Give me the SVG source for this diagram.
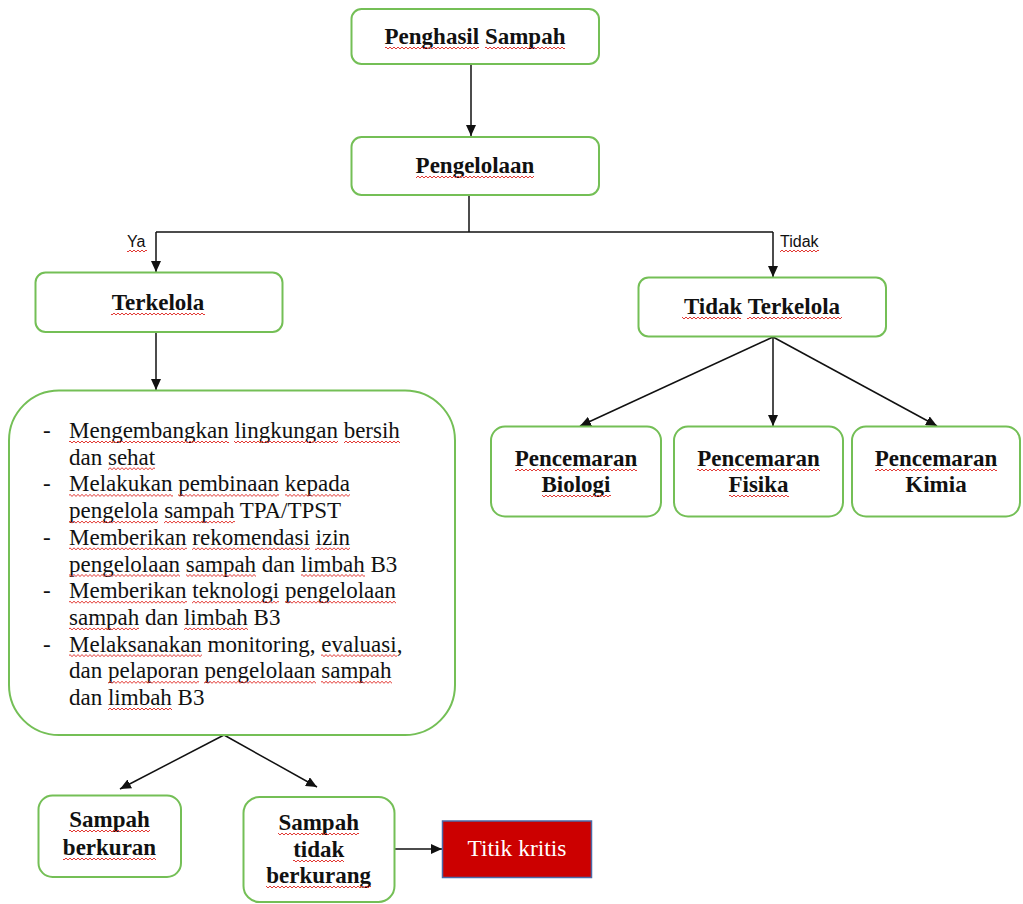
<svg xmlns="http://www.w3.org/2000/svg" width="1023" height="904" viewBox="0 0 1023 904">
<style>
.box{fill:#fff;stroke:#74bf56;stroke-width:2}
.h{font-family:"Liberation Serif","Times New Roman",serif;font-weight:bold;font-size:23px;fill:#111;text-anchor:middle}
.t{font-family:"Liberation Serif","Times New Roman",serif;font-size:23px;fill:#111}
.lbl{font-family:"Liberation Sans",Arial,sans-serif;font-size:16px;fill:#111}
.ln{fill:none;stroke:#111;stroke-width:1.5}
.sq{fill:url(#sq)}
</style>
<defs>
<pattern id="sq" width="4" height="4" patternUnits="userSpaceOnUse">
<path d="M0,3 L2,1 L4,3" fill="none" stroke="#e23a35" stroke-width="1"/>
</pattern>
<marker id="ar" markerUnits="userSpaceOnUse" markerWidth="12" markerHeight="10" refX="11" refY="5" orient="auto">
<path d="M0,0 L11,5 L0,10 z" fill="#111"/>
</marker>
</defs>
<rect width="1023" height="904" fill="#fff"/>

<g id="connectors">
<line class="ln" x1="471" y1="64" x2="471" y2="136" marker-end="url(#ar)"/>
<polyline class="ln" points="469,195 469,232"/>
<polyline class="ln" points="156,232 773,232"/>
<line class="ln" x1="156" y1="232" x2="156" y2="272" marker-end="url(#ar)"/>
<line class="ln" x1="773" y1="232" x2="773" y2="277" marker-end="url(#ar)"/>
<line class="ln" x1="156" y1="332" x2="156" y2="390" marker-end="url(#ar)"/>
<line class="ln" x1="773" y1="337" x2="580" y2="426" marker-end="url(#ar)"/>
<line class="ln" x1="773" y1="337" x2="773" y2="426" marker-end="url(#ar)"/>
<line class="ln" x1="773" y1="337" x2="937" y2="426" marker-end="url(#ar)"/>
<line class="ln" x1="224" y1="735" x2="120" y2="789" marker-end="url(#ar)"/>
<line class="ln" x1="224" y1="735" x2="317" y2="787" marker-end="url(#ar)"/>
<line class="ln" x1="394" y1="849" x2="442" y2="849" marker-end="url(#ar)"/>
<text class="lbl" x="127" y="247">Ya</text>
<rect class="sq" x="127" y="0" width="20" height="4" transform="translate(0,249)"/>
<text class="lbl" x="780" y="247">Tidak</text>
<rect class="sq" x="780" y="0" width="39" height="4" transform="translate(0,249)"/>
</g>

<g id="penghasil">
<rect class="box" x="351.5" y="9" width="247.5" height="55" rx="10"/>
<text class="h" x="475" y="44">Penghasil Sampah</text>
<rect class="sq" x="385" y="0" width="94" height="4" transform="translate(0,46)"/>
<rect class="sq" x="485" y="0" width="80" height="4" transform="translate(0,46)"/>
</g>

<g id="pengelolaan">
<rect class="box" x="351.5" y="137" width="247.5" height="58" rx="10"/>
<text class="h" x="475" y="173">Pengelolaan</text>
<rect class="sq" x="416" y="0" width="118" height="4" transform="translate(0,175)"/>
</g>

<g id="terkelola">
<rect class="box" x="35.5" y="272.5" width="247" height="59.5" rx="10"/>
<text class="h" x="158" y="310">Terkelola</text>
<rect class="sq" x="111" y="0" width="94" height="4" transform="translate(0,312)"/>
</g>

<g id="tidak-terkelola">
<rect class="box" x="638.5" y="277.5" width="247.5" height="59" rx="10"/>
<text class="h" x="762" y="314">Tidak Terkelola</text>
<rect class="sq" x="682" y="0" width="59" height="4" transform="translate(0,316)"/>
<rect class="sq" x="747" y="0" width="95" height="4" transform="translate(0,316)"/>
</g>

<g id="kegiatan">
<rect class="box" x="9" y="390.5" width="446" height="344.5" rx="50"/>
<text class="t" x="43" y="438">-</text>
<text class="t" x="69" y="438">Mengembangkan lingkungan bersih</text>
<text class="t" x="69" y="464.7">dan sehat</text>
<text class="t" x="43" y="491.4">-</text>
<text class="t" x="69" y="491.4">Melakukan pembinaan kepada</text>
<text class="t" x="69" y="518.1">pengelola sampah TPA/TPST</text>
<text class="t" x="43" y="544.8">-</text>
<text class="t" x="69" y="544.8">Memberikan rekomendasi izin</text>
<text class="t" x="69" y="571.5">pengelolaan sampah dan limbah B3</text>
<text class="t" x="43" y="598.2">-</text>
<text class="t" x="69" y="598.2">Memberikan teknologi pengelolaan</text>
<text class="t" x="69" y="624.9">sampah dan limbah B3</text>
<text class="t" x="43" y="651.6">-</text>
<text class="t" x="69" y="651.6">Melaksanakan monitoring, evaluasi,</text>
<text class="t" x="69" y="678.3">dan pelaporan pengelolaan sampah</text>
<text class="t" x="69" y="705">dan limbah B3</text>
<g transform="translate(0,440)">
<rect class="sq" x="69" y="0" width="160" height="4"/>
<rect class="sq" x="234" y="0" width="104" height="4"/>
<rect class="sq" x="344" y="0" width="56" height="4"/>
</g>
<g transform="translate(0,466.7)">
<rect class="sq" x="108" y="0" width="47" height="4"/>
</g>
<g transform="translate(0,493.4)">
<rect class="sq" x="69" y="0" width="104" height="4"/>
<rect class="sq" x="178" y="0" width="101" height="4"/>
<rect class="sq" x="285" y="0" width="65" height="4"/>
</g>
<g transform="translate(0,520.1)">
<rect class="sq" x="69" y="0" width="89" height="4"/>
<rect class="sq" x="164" y="0" width="71" height="4"/>
</g>
<g transform="translate(0,546.8)">
<rect class="sq" x="69" y="0" width="118" height="4"/>
<rect class="sq" x="192" y="0" width="118" height="4"/>
<rect class="sq" x="315" y="0" width="35" height="4"/>
</g>
<g transform="translate(0,573.5)">
<rect class="sq" x="69" y="0" width="111" height="4"/>
<rect class="sq" x="186" y="0" width="70" height="4"/>
<rect class="sq" x="301" y="0" width="64" height="4"/>
</g>
<g transform="translate(0,600.2)">
<rect class="sq" x="69" y="0" width="118" height="4"/>
<rect class="sq" x="192" y="0" width="87" height="4"/>
<rect class="sq" x="285" y="0" width="111" height="4"/>
</g>
<g transform="translate(0,626.9)">
<rect class="sq" x="69" y="0" width="70" height="4"/>
<rect class="sq" x="184" y="0" width="64" height="4"/>
</g>
<g transform="translate(0,653.6)">
<rect class="sq" x="69" y="0" width="133" height="4"/>
<rect class="sq" x="321" y="0" width="76" height="4"/>
</g>
<g transform="translate(0,680.3)">
<rect class="sq" x="108" y="0" width="91" height="4"/>
<rect class="sq" x="204" y="0" width="112" height="4"/>
<rect class="sq" x="321" y="0" width="71" height="4"/>
</g>
<g transform="translate(0,707)">
<rect class="sq" x="108" y="0" width="64" height="4"/>
</g>
</g>

<g id="biologi">
<rect class="box" x="491" y="426.5" width="170" height="90" rx="14"/>
<text class="h" x="576" y="466">Pencemaran</text>
<text class="h" x="576" y="492">Biologi</text>
<rect class="sq" x="515" y="0" width="122" height="4" transform="translate(0,468)"/>
<rect class="sq" x="542" y="0" width="69" height="4" transform="translate(0,494)"/>
</g>

<g id="fisika">
<rect class="box" x="674" y="426.5" width="169" height="90" rx="14"/>
<text class="h" x="758.5" y="466">Pencemaran</text>
<text class="h" x="758.5" y="492">Fisika</text>
<rect class="sq" x="697" y="0" width="123" height="4" transform="translate(0,468)"/>
<rect class="sq" x="729" y="0" width="60" height="4" transform="translate(0,494)"/>
</g>

<g id="kimia">
<rect class="box" x="852" y="426.5" width="168" height="90" rx="14"/>
<text class="h" x="936" y="466">Pencemaran</text>
<text class="h" x="936" y="492">Kimia</text>
<rect class="sq" x="875" y="0" width="122" height="4" transform="translate(0,468)"/>
</g>

<g id="sampah-berkuran">
<rect class="box" x="38.5" y="795.5" width="142.5" height="81.5" rx="14"/>
<text class="h" x="109.5" y="827">Sampah</text>
<text class="h" x="109.5" y="855">berkuran</text>
<rect class="sq" x="69" y="0" width="81" height="4" transform="translate(0,829)"/>
<rect class="sq" x="63" y="0" width="93" height="4" transform="translate(0,857)"/>
</g>

<g id="sampah-tidak-berkurang">
<rect class="box" x="243.5" y="797" width="151" height="105" rx="16"/>
<text class="h" x="318.7" y="830">Sampah</text>
<text class="h" x="318.7" y="857">tidak</text>
<text class="h" x="318.7" y="883">berkurang</text>
<rect class="sq" x="278" y="0" width="81" height="4" transform="translate(0,832)"/>
<rect class="sq" x="293" y="0" width="51" height="4" transform="translate(0,859)"/>
<rect class="sq" x="266" y="0" width="105" height="4" transform="translate(0,885)"/>
</g>

<g id="titik-kritis">
<rect x="442.5" y="821" width="149" height="56.5" fill="#cc0000" stroke="#4a6aa8" stroke-width="1.5"/>
<text x="517" y="856" font-family="'Liberation Serif','Times New Roman',serif" font-size="23.5" fill="#fff" text-anchor="middle">Titik kritis</text>
</g>
</svg>
